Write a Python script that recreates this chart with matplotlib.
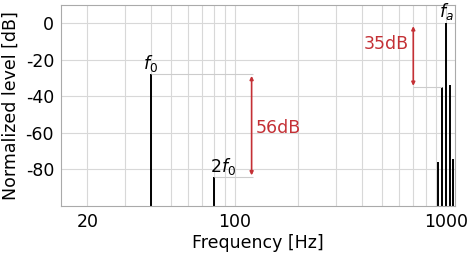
import matplotlib
matplotlib.use("Agg")
import matplotlib.pyplot as plt

plt.rcParams['axes.unicode_minus'] = False

# spectrum lines (frequency in Hz, level in dB)
f0_freq = [40]
f0_level = [-28]
h2_freq = [80]
h2_level = [-84]
fa_freq = [920, 960, 1000, 1040, 1080]
fa_level = [-76, -35, 0, -34, -74]

yticks = [0, -20, -40, -60, -80]
xticks = [20, 100, 1000]

fig = plt.figure(figsize=(4.67, 2.54), dpi=100)
ax = fig.add_axes([0.1306, 0.189, 0.8431, 0.791])

floor = -100
ax.vlines(f0_freq, floor, f0_level, color='black', lw=1.4)
ax.vlines(h2_freq, floor, h2_level, color='black', lw=1.4)
ax.vlines(fa_freq, floor, fa_level, color='black', lw=1.4)

ax.set_xscale('log')
ax.set_xlim(15, 1100)
ax.set_ylim(-100, 10)
ax.set_xticks(xticks)
ax.set_xticklabels([str(t) for t in xticks])
ax.set_yticks(yticks)
ax.set_yticklabels([str(t) for t in yticks])
ax.tick_params(which='both', length=0, labelsize=12.5, pad=5)
ax.grid(True, which='major', color='#d8d8d8', lw=0.8)
ax.grid(True, which='minor', axis='x', color='#d8d8d8', lw=0.8)
ax.set_axisbelow(True)
for s in ax.spines.values():
    s.set_color('#aaaaaa')

ax.set_xlabel('Frequency [Hz]', fontsize=12.5, labelpad=2)
ax.set_ylabel('Normalized level [dB]', fontsize=12.5, labelpad=4)

red = '#c43035'
# 56 dB annotation
ax.hlines(f0_level[0], f0_freq[0], 122, color='#cccccc', lw=0.8)
ax.hlines(h2_level[0], h2_freq[0], 122, color='#cccccc', lw=0.8)
ax.annotate('', xy=(120, h2_level[0]), xytext=(120, f0_level[0]),
            arrowprops=dict(arrowstyle='<|-|>', color=red, lw=1.2,
                            mutation_scale=5, shrinkA=1, shrinkB=1))
ax.text(126, (f0_level[0] + h2_level[0]) / 2 - 1.5, '56dB', color=red,
        fontsize=12.5, va='center', ha='left')

# 35 dB annotation
ax.hlines(fa_level[1], 700, fa_freq[1], color='#cccccc', lw=0.8)
ax.annotate('', xy=(700, fa_level[1]), xytext=(700, fa_level[2]),
            arrowprops=dict(arrowstyle='<|-|>', color=red, lw=1.2,
                            mutation_scale=5, shrinkA=2, shrinkB=1))
ax.text(665, -11.5, '35dB', color=red, fontsize=12.5, va='center', ha='right')

# labels
ax.text(f0_freq[0], f0_level[0], '$f_0$', fontsize=12.5, ha='center', va='bottom')
ax.text(h2_freq[0] * 1.1, h2_level[0], '$2f_0$', fontsize=12.5, ha='center', va='bottom')
ax.text(1000, 0.5, '$f_a$', fontsize=12.5, ha='center', va='bottom')

fig.savefig('out.png', dpi=100)
